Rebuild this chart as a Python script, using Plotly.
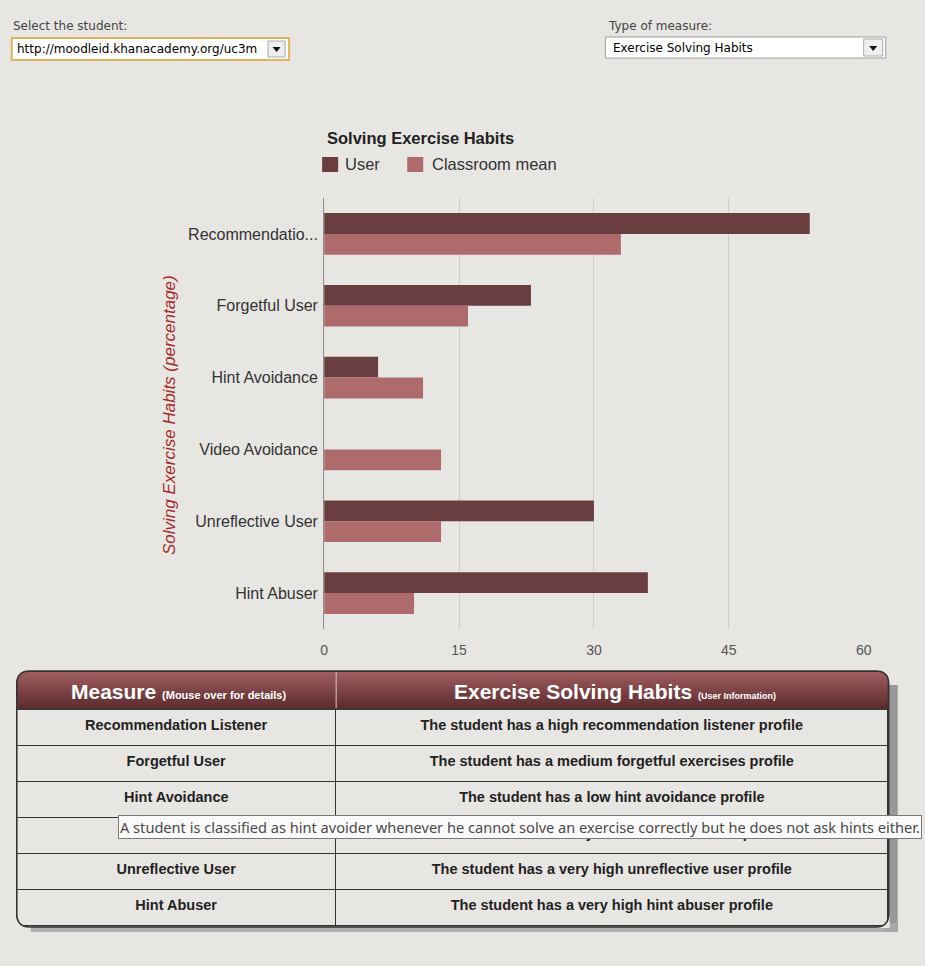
import plotly.graph_objects as go

W, H = 925, 966
BG = "#E8E6E3"
USER_C = "#6A3D40"
CLASS_C = "#AD6B6B"

# ---- data ----
categories = ["Recommendation Listener", "Forgetful User", "Hint Avoidance",
              "Video Avoidance", "Unreflective User", "Hint Abuser"]
tick_labels = ["Recommendatio...", "Forgetful User", "Hint Avoidance",
               "Video Avoidance", "Unreflective User", "Hint Abuser"]
user_values = [54, 23, 6, 0, 30, 36]
classroom_values = [33, 16, 11, 13, 13, 10]
x_ticks = [0, 15, 30, 45, 60]
series_names = ["User", "Classroom mean"]
profiles = ["The student has a high recommendation listener profile",
            "The student has a medium forgetful exercises profile",
            "The student has a low hint avoidance profile",
            "The student has a very low video avoidance profile",
            "The student has a very high unreflective user profile",
            "The student has a very high hint abuser profile"]
tooltip_text = ("A student is classified as hint avoider whenever he cannot solve an "
                "exercise correctly but he does not ask hints either.")


def fx(x):
    # horizontal calibration
    return (x - 4.2) / 0.986


def px(x):
    return fx(x) / W


def py(y):
    return 1 - y / H


fig = go.Figure()
fig.add_trace(go.Bar(orientation="h", y=categories, x=user_values, name=series_names[0],
                     marker=dict(color=USER_C, line=dict(width=0)), showlegend=False))
fig.add_trace(go.Bar(orientation="h", y=categories, x=classroom_values,
                     name=series_names[1], showlegend=False,
                     marker=dict(color=CLASS_C, line=dict(width=0))))

# table geometry
TX0, TX1, TY0, TY1 = 17, 888, 671, 927
COL_SPLIT = 336
HEAD_H = 38
ROW_H = 36

fig.add_trace(go.Table(
    domain=dict(x=[px(TX0), px(TX1)], y=[py(TY1), py(TY0)]),
    columnwidth=[fx(COL_SPLIT) - fx(TX0), fx(TX1) - fx(COL_SPLIT)],
    header=dict(values=["", ""], fill_color="#7E4447", line_color="#3a3a3a", line_width=1,
                height=HEAD_H),
    cells=dict(
        values=[["<b>%s</b>" % c for c in categories], ["<b>%s</b>" % p for p in profiles]],
        fill_color=BG, line_color="#333333", line_width=1,
        font=dict(family="Liberation Sans, Arial", size=14.5, color="#222"),
        align="center", height=ROW_H),
))

shapes = []
annotations = []

# table shadow (right/bottom)
shapes.append(dict(type="rect", xref="paper", yref="paper", x0=px(TX1 - 4), x1=px(TX1 + 9),
                   y0=py(TY1 + 5), y1=py(TY0 + 14), fillcolor="#8F8F8F",
                   line=dict(width=0), layer="below", opacity=0.9))
shapes.append(dict(type="rect", xref="paper", yref="paper", x0=px(TX0 + 14), x1=px(TX1 + 9),
                   y0=py(TY1 + 5), y1=py(TY1 - 4), fillcolor="#A8A8A8",
                   line=dict(width=0), layer="below", opacity=0.9))

# header gradient
top_rgb = (0x9E, 0x5C, 0x5E)
bot_rgb = (0x5C, 0x2B, 0x2E)
n = 19
for i in range(n):
    t = i / (n - 1)
    c = tuple(int(round(top_rgb[k] + (bot_rgb[k] - top_rgb[k]) * t)) for k in range(3))
    y0 = TY0 + 1 + i * (HEAD_H - 1) / n
    y1 = TY0 + 1 + (i + 1) * (HEAD_H - 1) / n
    shapes.append(dict(type="rect", xref="paper", yref="paper", x0=px(TX0 + 1), x1=px(TX1 - 1),
                       y0=py(y1 + 0.3), y1=py(y0), fillcolor="rgb(%d,%d,%d)" % c,
                       line=dict(width=0), layer="above"))
# header divider
shapes.append(dict(type="line", xref="paper", yref="paper", x0=px(COL_SPLIT), x1=px(COL_SPLIT),
                   y0=py(TY0 + HEAD_H), y1=py(TY0 + 1), line=dict(color="#D8C8C8", width=1),
                   layer="above"))
shapes.append(dict(type="line", xref="paper", yref="paper", x0=px(TX0), x1=px(TX1),
                   y0=py(TY0 + HEAD_H), y1=py(TY0 + HEAD_H), line=dict(color="#3a3a3a", width=1.5),
                   layer="above"))

# rounded corners: fill the square corners with background, then outline
R = 13
corners = [
    (TX0, TY0, 1, 1), (TX1, TY0, -1, 1), (TX1, TY1, -1, -1), (TX0, TY1, 1, -1)
]
for cx, cy, sx, sy in corners:
    path = "M %f %f L %f %f Q %f %f %f %f Z" % (
        px(cx - sx), py(cy - sy), px(cx + sx * R), py(cy - sy),
        px(cx), py(cy), px(cx - sx), py(cy + sy * R))
    shapes.append(dict(type="path", xref="paper", yref="paper", path=path,
                       fillcolor=BG, line=dict(width=0), layer="above"))
outline = ("M %f %f L %f %f Q %f %f %f %f L %f %f Q %f %f %f %f L %f %f Q %f %f %f %f "
           "L %f %f Q %f %f %f %f Z") % (
    px(TX0 + R), py(TY0), px(TX1 - R), py(TY0), px(TX1), py(TY0), px(TX1), py(TY0 + R),
    px(TX1), py(TY1 - R), px(TX1), py(TY1), px(TX1 - R), py(TY1),
    px(TX0 + R), py(TY1), px(TX0), py(TY1), px(TX0), py(TY1 - R),
    px(TX0), py(TY0 + R), px(TX0), py(TY0), px(TX0 + R), py(TY0))
shapes.append(dict(type="path", xref="paper", yref="paper", path=outline,
                   fillcolor="rgba(0,0,0,0)", line=dict(color="#333333", width=1.5), layer="above"))

# header texts
annotations += [
    dict(text="<b>Measure</b> <span style='font-size:11px'><b>(Mouse over for details)</b></span>",
         x=px((TX0 + COL_SPLIT) / 2 + 2), y=py(TY0 + HEAD_H / 2 + 1), xanchor="center", yanchor="middle",
         font=dict(family="Liberation Sans, Arial", size=21, color="white")),
    dict(text="<b>Exercise Solving Habits</b> <span style='font-size:9px'><b>(User Information)</b></span>",
         x=px((COL_SPLIT + TX1) / 2 + 3), y=py(TY0 + HEAD_H / 2 + 1), xanchor="center", yanchor="middle",
         font=dict(family="Liberation Sans, Arial", size=21, color="white")),
]

# dropdowns
shapes.append(dict(type="rect", xref="paper", yref="paper", x0=px(12), x1=px(289),
                   y0=py(60), y1=py(38), fillcolor="white",
                   line=dict(color="#E0B45C", width=2), layer="above"))
shapes.append(dict(type="rect", xref="paper", yref="paper", x0=px(268), x1=px(285),
                   y0=py(57), y1=py(41), fillcolor="#EEEEEE",
                   line=dict(color="#AAAAAA", width=1), layer="above"))
shapes.append(dict(type="rect", xref="paper", yref="paper", x0=px(605), x1=px(885),
                   y0=py(58), y1=py(37), fillcolor="white",
                   line=dict(color="#A0A0A0", width=1), layer="above"))
shapes.append(dict(type="rect", xref="paper", yref="paper", x0=px(863), x1=px(882),
                   y0=py(56), y1=py(39), fillcolor="#EEEEEE",
                   line=dict(color="#AAAAAA", width=1), layer="above"))
for cx, cy in [(276.5, 49), (872.5, 48)]:
    shapes.append(dict(type="path", xref="paper", yref="paper",
                       path="M %f %f L %f %f L %f %f Z" % (px(cx - 4), py(cy - 2), px(cx + 4), py(cy - 2), px(cx), py(cy + 3)),
                       fillcolor="#111", line=dict(width=0), layer="above"))

annotations += [
    dict(text="Select the student:", x=px(11), y=py(26), xanchor="left", yanchor="middle",
         font=dict(family="DejaVu Sans", size=12, color="#444")),
    dict(text="http://moodleid.khanacademy.org/uc3m", x=px(15), y=py(49), xanchor="left", yanchor="middle",
         font=dict(family="DejaVu Sans", size=12, color="#000")),
    dict(text="Type of measure:", x=px(606), y=py(26), xanchor="left", yanchor="middle",
         font=dict(family="DejaVu Sans", size=12, color="#444")),
    dict(text="Exercise Solving Habits", x=px(611), y=py(48), xanchor="left", yanchor="middle",
         font=dict(family="DejaVu Sans", size=12, color="#000")),
    dict(text="<b>Solving Exercise Habits</b>", x=px(325), y=py(138), xanchor="left", yanchor="middle",
         font=dict(family="Liberation Sans, Arial", size=16.5, color="#222")),
    dict(text="<i>Solving Exercise Habits (percentage)</i>", x=px(170), y=py(415), textangle=-90,
         xanchor="center", yanchor="middle",
         font=dict(family="Liberation Sans, Arial", size=17, color="#A52A2A")),
    dict(text=tooltip_text, x=px(118), y=py(826.5), xanchor="left", yanchor="middle",
         bgcolor="#FAFAFA", bordercolor="#7A7A7A", borderwidth=1, borderpad=1,
         font=dict(family="Noto Sans, Open Sans", size=14.6, color="#4A4A4A")),
]

# manual legend
legend_items = [(322, USER_C, series_names[0], 343),
                (407, CLASS_C, series_names[1], 430)]
for sx, col, name, tx in legend_items:
    shapes.append(dict(type="rect", xref="paper", yref="paper", x0=px(sx), x1=px(sx + 16),
                       y0=py(172), y1=py(157), fillcolor=col, line=dict(width=0), layer="above"))
    annotations.append(dict(text=name, x=px(tx), y=py(164), xanchor="left", yanchor="middle",
                            font=dict(family="Liberation Sans, Arial", size=16.5, color="#333")))

for a in annotations:
    a.setdefault("xref", "paper")
    a.setdefault("yref", "paper")
    a.setdefault("showarrow", False)

fig.update_layout(
    width=W, height=H, autosize=False,
    margin=dict(l=0, r=0, t=0, b=0),
    paper_bgcolor=BG, plot_bgcolor=BG,
    barmode="group", bargap=0.42, bargroupgap=0.0,
    font=dict(family="Liberation Sans, Arial", size=14, color="#333"),
    xaxis=dict(domain=[px(324), px(863)], range=[0, 60], tickvals=x_ticks,
               showgrid=True, gridcolor="#CFCDCA", gridwidth=1, zeroline=False,
               tickfont=dict(size=14, color="#555"), ticks="", showline=False,
               anchor="y", ticklabelstandoff=11),
    yaxis=dict(domain=[py(629), py(198)], autorange="reversed",
               tickvals=categories, ticktext=tick_labels, showline=True,
               linecolor="#8A8A8A", linewidth=1, ticks="", showgrid=False,
               tickfont=dict(size=16, color="#333"), ticklabelstandoff=2),
    showlegend=False,
    shapes=shapes,
    annotations=annotations,
)

post = ("document.documentElement.style.margin='0px';"
        "document.documentElement.style.overflow='hidden';"
        "document.body.style.margin='0px';"
        "document.body.style.padding='0px';"
        "document.body.style.overflow='hidden';"
        "document.body.style.background='%s';" % BG)
fig.write_html("out.html", config={"displayModeBar": False, "responsive": False},
               post_script=post)
